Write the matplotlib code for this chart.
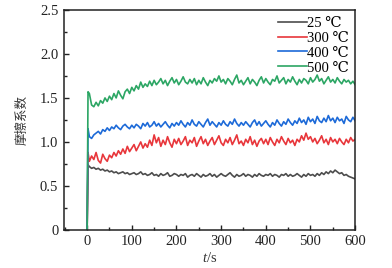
import numpy as np
import matplotlib
matplotlib.use("Agg")
import matplotlib.pyplot as plt
from matplotlib.ticker import MultipleLocator

plt.rcParams['font.family'] = ['Liberation Serif', 'DejaVu Serif', 'Noto Sans CJK SC']
plt.rcParams['mathtext.fontset'] = 'custom'
plt.rcParams['mathtext.it'] = 'Liberation Serif:italic'
plt.rcParams['mathtext.rm'] = 'Liberation Serif'

labels = ['25 ℃', '300 ℃', '400 ℃', '500 ℃']
colors = ['#4d4d4d', '#e8363b', '#1d6ad8', '#2ca664']

t_head = [0, 2]
head_25 = [0.0, 0.74]
head_300 = [0.0, 0.88]
head_400 = [0.0, 1.15]
head_500 = [0.0, 1.57]

# values every 5 s from 5 to 600 s
v_25 = [0.72,0.70,0.71,0.69,0.70,0.68,0.69,0.67,0.68,0.66,
        0.67,0.65,0.66,0.64,0.65,0.66,0.64,0.65,0.63,0.64,
        0.65,0.63,0.64,0.66,0.63,0.64,0.62,0.63,0.65,0.62,
        0.63,0.61,0.64,0.62,0.63,0.65,0.61,0.62,0.64,0.63,
        0.61,0.63,0.62,0.64,0.60,0.62,0.63,0.61,0.64,0.62,
        0.60,0.63,0.61,0.62,0.64,0.61,0.63,0.60,0.62,0.64,
        0.62,0.61,0.63,0.65,0.62,0.60,0.63,0.61,0.62,0.64,
        0.61,0.63,0.62,0.60,0.63,0.61,0.64,0.62,0.61,0.63,
        0.62,0.64,0.61,0.63,0.62,0.60,0.63,0.62,0.64,0.61,
        0.63,0.61,0.62,0.64,0.62,0.60,0.63,0.61,0.64,0.62,
        0.63,0.61,0.64,0.62,0.65,0.63,0.66,0.64,0.67,0.65,
        0.68,0.66,0.64,0.65,0.62,0.63,0.61,0.60,0.59,0.58]
v_300 = [0.78,0.84,0.80,0.88,0.79,0.76,0.86,0.81,0.78,0.85,
         0.82,0.88,0.84,0.90,0.86,0.92,0.87,0.95,0.89,0.93,
         0.97,0.90,0.95,1.00,0.93,0.98,0.94,1.02,0.96,1.08,
         0.99,1.05,0.95,1.02,0.97,1.06,0.99,0.94,1.03,0.98,
         1.04,0.97,1.01,1.06,0.96,1.02,0.99,1.05,0.95,1.01,
         1.06,0.98,1.03,0.96,1.01,1.05,0.97,1.02,1.07,0.99,
         0.96,1.03,0.99,1.05,0.97,1.02,1.08,0.98,1.01,0.96,
         1.03,0.99,1.06,0.97,1.02,0.95,1.01,1.04,0.98,1.03,
         0.97,1.05,1.00,0.96,1.03,0.99,1.06,1.01,0.97,1.04,
         0.99,1.02,0.96,1.03,1.00,1.07,1.02,1.10,1.03,1.06,
         1.00,1.04,0.98,1.02,1.07,0.99,1.03,0.97,1.05,1.00,
         1.03,0.98,1.04,1.00,0.97,1.03,0.99,1.05,1.01,1.03]
v_400 = [1.06,1.04,1.08,1.10,1.12,1.09,1.14,1.12,1.16,1.13,
         1.17,1.15,1.19,1.16,1.14,1.18,1.20,1.17,1.15,1.19,
         1.16,1.20,1.18,1.15,1.21,1.18,1.22,1.17,1.19,1.23,
         1.18,1.21,1.17,1.20,1.23,1.19,1.16,1.21,1.18,1.22,
         1.19,1.24,1.20,1.17,1.22,1.19,1.25,1.20,1.18,1.23,
         1.20,1.17,1.22,1.26,1.19,1.23,1.20,1.17,1.22,1.19,
         1.24,1.20,1.18,1.23,1.20,1.26,1.21,1.18,1.22,1.19,
         1.23,1.20,1.17,1.22,1.25,1.19,1.23,1.18,1.21,1.24,
         1.20,1.17,1.22,1.19,1.25,1.21,1.18,1.23,1.20,1.26,
         1.22,1.19,1.24,1.21,1.27,1.22,1.25,1.20,1.28,1.23,
         1.26,1.21,1.29,1.24,1.22,1.27,1.23,1.30,1.24,1.27,
         1.22,1.28,1.24,1.26,1.21,1.29,1.25,1.23,1.28,1.24]
v_500 = [1.55,1.42,1.40,1.45,1.41,1.47,1.44,1.50,1.46,1.52,
         1.48,1.55,1.50,1.58,1.53,1.49,1.57,1.60,1.55,1.62,
         1.58,1.64,1.60,1.68,1.62,1.66,1.63,1.69,1.64,1.70,
         1.65,1.68,1.72,1.66,1.70,1.64,1.69,1.73,1.67,1.71,
         1.65,1.69,1.74,1.68,1.66,1.71,1.67,1.72,1.65,1.70,
         1.66,1.73,1.68,1.64,1.70,1.67,1.72,1.69,1.75,1.68,
         1.71,1.66,1.72,1.69,1.65,1.71,1.76,1.67,1.70,1.65,
         1.69,1.73,1.66,1.71,1.68,1.64,1.70,1.74,1.67,1.72,
         1.68,1.65,1.71,1.69,1.75,1.67,1.70,1.73,1.66,1.71,
         1.68,1.74,1.69,1.65,1.71,1.67,1.72,1.70,1.66,1.73,
         1.68,1.71,1.76,1.69,1.72,1.66,1.70,1.74,1.68,1.71,
         1.67,1.73,1.69,1.66,1.71,1.68,1.70,1.66,1.69,1.65]

xticks = [0, 100, 200, 300, 400, 500, 600]
yticks = [0, 0.5, 1.0, 1.5, 2.0, 2.5]
yticklabels = ['0', '0.5', '1.0', '1.5', '2.0', '2.5']

fig = plt.figure(figsize=(3.92, 2.68), dpi=100)
ax = fig.add_axes([0.163, 0.142, 0.743, 0.821])

heads = [head_25, head_300, head_400, head_500]
series = [v_25, v_300, v_400, v_500]
for h, v, c, lab in zip(heads, series, colors, labels):
    t = np.concatenate([t_head, 5 * np.arange(1, len(v) + 1)])
    y = np.concatenate([h, v])
    ax.plot(t, y, color=c, lw=1.2, label=lab)

ax.set_xlim(-52, 600)
ax.set_ylim(0, 2.5)
ax.set_xticks(xticks)
ax.set_yticks(yticks)
ax.set_yticklabels(yticklabels)
ax.xaxis.set_minor_locator(MultipleLocator(50))
ax.yaxis.set_minor_locator(MultipleLocator(0.25))
ax.tick_params(which='both', direction='in', top=False, right=False, labelsize=10.5,
               colors='#222222', pad=4)
ax.tick_params(which='major', length=3.5, width=1)
ax.tick_params(which='minor', length=2, width=1)
for s in ax.spines.values():
    s.set_linewidth(1.1)
    s.set_color('#222222')

ax.set_ylabel('摩擦系数', family=['Noto Sans CJK SC'], fontsize=9, labelpad=8, color='#333333')
ax.set_xlabel('$t$/s', fontsize=10.5, labelpad=2, color='#333333')

leg = ax.legend(loc='upper right', frameon=False, fontsize=10.5, handlelength=2.0,
                handletextpad=0.0, labelspacing=0.12, borderaxespad=0.05)

fig.savefig('out.png', dpi=100)
